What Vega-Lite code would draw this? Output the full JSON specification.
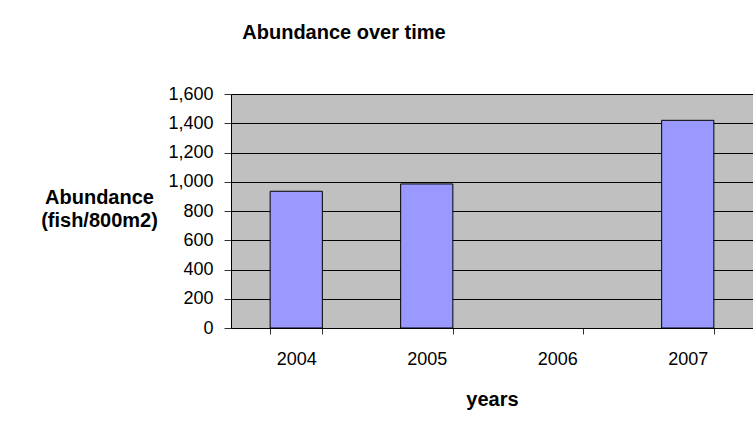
{
  "$schema": "https://vega.github.io/schema/vega-lite/v6.json",
  "autosize": {"type": "none"},
  "padding": {"left": 231, "top": 94, "right": 0, "bottom": 100},
  "width": 522,
  "height": 234,
  "background": "white",
  "title": {
    "text": "Abundance over time",
    "anchor": "start",
    "frame": "group",
    "align": "center",
    "dx": 113,
    "baseline": "alphabetic",
    "offset": 26,
    "font": "Liberation Sans",
    "fontSize": 20,
    "fontWeight": "bold",
    "color": "#000"
  },
  "config": {
    "view": {"fill": "#C0C0C0", "stroke": "#808080", "strokeWidth": 1},
    "axis": {
      "labelFont": "Liberation Sans",
      "titleFont": "Liberation Sans",
      "labelColor": "#000",
      "titleColor": "#000",
      "domainColor": "#000",
      "tickColor": "#333"
    }
  },
  "data": {
    "values": [
      {"year": "2004", "abundance": 935},
      {"year": "2005", "abundance": 985},
      {"year": "2006", "abundance": null},
      {"year": "2007", "abundance": 1420}
    ]
  },
  "mark": {"type": "bar", "fill": "#9999FF", "stroke": "#000", "strokeWidth": 1},
  "encoding": {
    "x": {
      "field": "year",
      "type": "ordinal",
      "scale": {"domain": ["2004", "2005", "2006", "2007"], "paddingInner": 0.6, "paddingOuter": 0.3},
      "axis": {
        "title": "years",
        "labelAngle": 0,
        "labelFontSize": 18,
        "labelPadding": 16,
        "labelBaseline": "top",
        "tickBand": "extent",
        "tickSize": 6,
        "grid": false,
        "titleFontSize": 20,
        "titleFontWeight": "bold",
        "titleBaseline": "alphabetic",
        "titleY": 77,
        "titleX": 261,
        "titleAlign": "center"
      }
    },
    "y": {
      "field": "abundance",
      "type": "quantitative",
      "scale": {"domain": [0, 1600], "nice": false},
      "axis": {
        "values": [0, 200, 400, 600, 800, 1000, 1200, 1400, 1600],
        "format": ",d",
        "labelFontSize": 18,
        "labelPadding": 11,
        "tickSize": 7,
        "grid": true,
        "gridColor": "#000",
        "gridWidth": 1,
        "title": ["Abundance", "(fish/800m2)"],
        "titleFontSize": 20,
        "titleFontWeight": "bold",
        "titleAngle": 0,
        "titleAlign": "center",
        "titleBaseline": "alphabetic",
        "titleLineHeight": 23,
        "titleX": -132,
        "titleY": 109
      }
    }
  }
}
